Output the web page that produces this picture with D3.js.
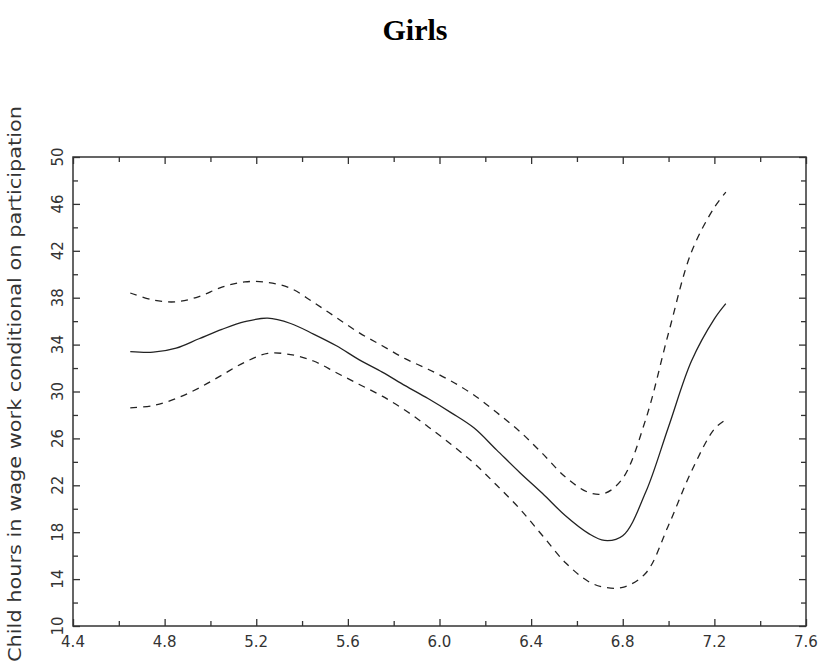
<!DOCTYPE html>
<html>
<head>
<meta charset="utf-8">
<script src="https://cdn.jsdelivr.net/npm/d3@7"></script>
<style>
  body { margin: 0; background: #fff; }
  svg { display: block; }
  .tick-label { font-family: "DejaVu Sans", sans-serif; font-size: 15px; fill: #333; }
</style>
</head>
<body>
<script>
// values
const xs = [4.65, 4.75, 4.85, 4.95, 5.05, 5.15, 5.25, 5.35, 5.45, 5.55, 5.65, 5.75, 5.85, 5.95,
            6.05, 6.15, 6.25, 6.35, 6.45, 6.55, 6.65, 6.72, 6.8, 6.9, 7.0, 7.1, 7.2, 7.25];
const estimate = [33.4, 33.35, 33.7, 34.5, 35.3, 35.95, 36.25, 35.8, 34.9, 33.9, 32.7, 31.65, 30.5, 29.4,
                  28.2, 26.9, 25.0, 23.1, 21.3, 19.4, 17.9, 17.3, 17.7, 21.4, 27.0, 32.6, 36.2, 37.5];
const upperBand = [38.4, 37.8, 37.65, 38.1, 38.9, 39.35, 39.3, 38.8, 37.6, 36.3, 35.0, 33.9, 32.8, 31.9,
                   30.9, 29.7, 28.2, 26.6, 24.7, 22.7, 21.4, 21.3, 22.6, 27.6, 35.0, 41.9, 45.7, 47.0];
const lowerBand = [28.6, 28.8, 29.4, 30.3, 31.4, 32.5, 33.25, 33.15, 32.6, 31.6, 30.6, 29.6, 28.4, 27.0,
                   25.5, 23.9, 22.0, 20.0, 17.7, 15.4, 13.8, 13.3, 13.3, 14.5, 18.6, 23.2, 26.8, 27.6];
const xTicks = [4.4, 4.8, 5.2, 5.6, 6.0, 6.4, 6.8, 7.2, 7.6];
const yTicks = [10, 14, 18, 22, 26, 30, 34, 38, 42, 46, 50];
const title = "Girls";
const yTitle = "Child hours in wage work conditional on participation";

let svgWidth = 823;
let svgHeight = 666;
let margin = {top: 157, right: 17, bottom: 40, left: 73};
let width = svgWidth - margin.left - margin.right;
let height = svgHeight - margin.top - margin.bottom;

let svg = d3.select("body")
  .append("svg")
  .attr("width", svgWidth)
  .attr("height", svgHeight);

let chartGroup = svg.append("g")
  .attr("transform", `translate(${margin.left}, ${margin.top})`);

let xScale = d3.scaleLinear().domain([4.4, 7.6]).range([0, width]);
let yScale = d3.scaleLinear().domain([10, 50]).range([height, 0]);

// minor ticks every 0.2 / 2, major where labelled
let xMinor = d3.range(4.4, 7.61, 0.2).map(v => +v.toFixed(1));
let yMinor = d3.range(10, 50.1, 2);

// inward ticks on all four sides
let axes = [
  {fn: d3.axisBottom, sc: xScale, vals: xMinor, t: `translate(0, ${height})`, major: xTicks},
  {fn: d3.axisTop, sc: xScale, vals: xMinor, t: `translate(0, 0)`, major: xTicks},
  {fn: d3.axisLeft, sc: yScale, vals: yMinor, t: `translate(0, 0)`, major: yTicks},
  {fn: d3.axisRight, sc: yScale, vals: yMinor, t: `translate(${width}, 0)`, major: yTicks}
];
axes.forEach(a => {
  let minorVals = a.vals.filter(v => !a.major.some(m => Math.abs(m - v) < 1e-6));
  [[minorVals, 5], [a.major, 7]].forEach(([vals, len]) => {
    let g = chartGroup.append("g")
      .attr("transform", a.t)
      .call(a.fn(a.sc).tickValues(vals).tickSize(-len).tickFormat(""));
    g.select(".domain").remove();
    g.selectAll("line").attr("stroke", "#333").attr("stroke-width", 1.3);
  });
});

// frame
chartGroup.append("rect")
  .attr("x", 0).attr("y", 0)
  .attr("width", width).attr("height", height)
  .attr("fill", "none")
  .attr("stroke", "#333")
  .attr("stroke-width", 1.5);

// tick labels
chartGroup.selectAll(".xlab")
  .data(xTicks)
  .enter()
  .append("text")
  .attr("class", "tick-label")
  .attr("x", d => xScale(d))
  .attr("y", height + 21)
  .attr("text-anchor", "middle")
  .text(d => d.toFixed(1));

chartGroup.selectAll(".ylab")
  .data(yTicks)
  .enter()
  .append("text")
  .attr("class", "tick-label")
  .attr("transform", d => `translate(-10, ${yScale(d)}) rotate(-90)`)
  .attr("text-anchor", "middle")
  .text(d => d);

// curves
let line = d3.line()
  .x((d, i) => xScale(xs[i]))
  .y(d => yScale(d))
  .curve(d3.curveCatmullRom);

[[upperBand, "7,6"], [lowerBand, "7,6"], [estimate, null]].forEach(([vals, dash]) => {
  chartGroup.append("path")
    .datum(vals)
    .attr("d", line)
    .attr("fill", "none")
    .attr("stroke", "#222")
    .attr("stroke-width", 1.3)
    .attr("stroke-dasharray", dash);
});

// titles
svg.append("text")
  .attr("x", 415)
  .attr("y", 40)
  .attr("text-anchor", "middle")
  .style("font-family", "'Liberation Serif', 'Times New Roman', serif")
  .style("font-weight", "bold")
  .style("font-size", "30px")
  .text(title);

svg.append("text")
  .attr("transform", "translate(21, 384) rotate(-90)")
  .attr("text-anchor", "middle")
  .style("font-family", "'DejaVu Sans', sans-serif")
  .style("font-size", "17px")
  .style("fill", "#333")
  .attr("textLength", 556)
  .attr("lengthAdjust", "spacingAndGlyphs")
  .text(yTitle);
</script>
</body>
</html>
